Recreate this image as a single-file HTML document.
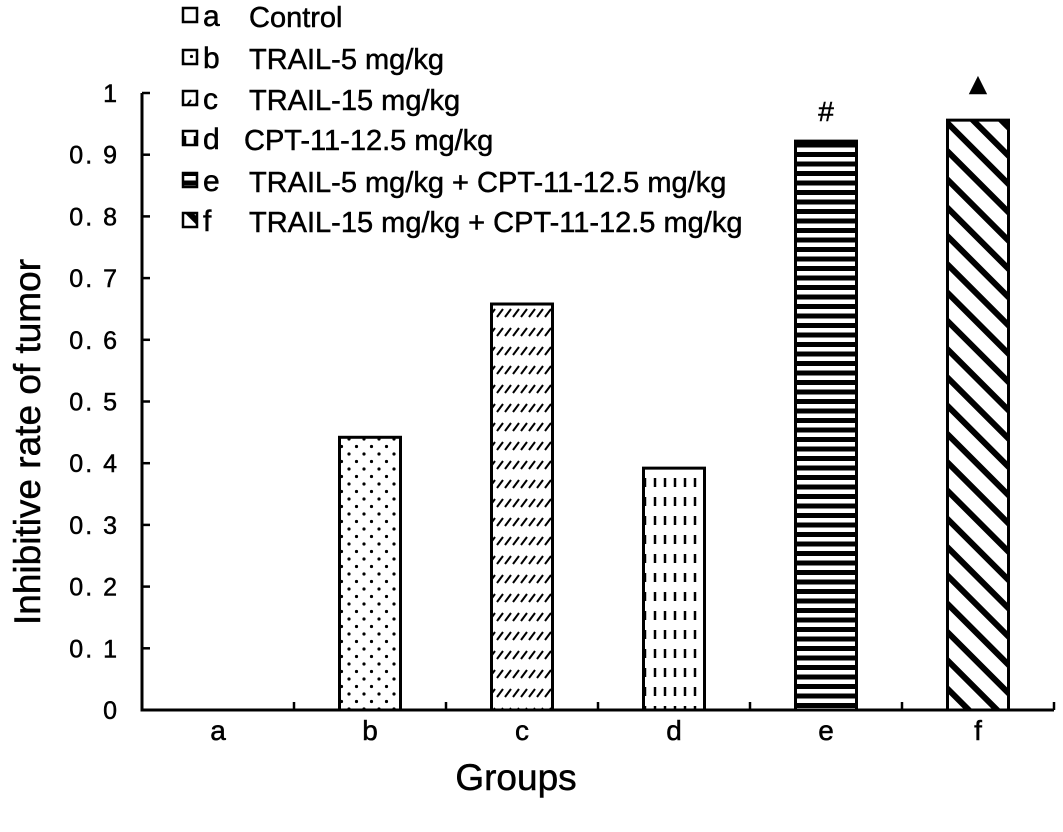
<!DOCTYPE html>
<html><head><meta charset="utf-8"><style>
body{margin:0;background:#fff}
svg{display:block;font-family:"Liberation Sans",Arial,sans-serif}
text{stroke:#000;stroke-width:0.5px}
</style></head><body>
<svg id="chart" width="1063" height="832" viewBox="0 0 1063 832">
<defs>
<pattern id="pb" width="15" height="15" patternUnits="userSpaceOnUse"><rect width="15" height="15" fill="#fff"/><circle cx="4" cy="4" r="1.6" fill="#000"/><circle cx="11.5" cy="11.5" r="1.6" fill="#000"/></pattern>
<pattern id="pc" width="8" height="19" patternUnits="userSpaceOnUse"><rect width="8" height="19" fill="#fff"/><line x1="1" y1="13" x2="7" y2="5" stroke="#000" stroke-width="2"/></pattern>
<pattern id="pd" width="10" height="19" patternUnits="userSpaceOnUse"><rect width="10" height="19" fill="#fff"/><line x1="5" y1="3" x2="5" y2="12" stroke="#000" stroke-width="2.5"/></pattern>
<pattern id="pe" width="10" height="9.5" patternUnits="userSpaceOnUse"><rect width="10" height="9.5" fill="#fff"/><rect y="0" width="10" height="5" fill="#000"/></pattern>
<pattern id="pf" width="20" height="20" patternUnits="userSpaceOnUse" patternTransform="rotate(-45)"><rect width="20" height="20" fill="#fff"/><rect x="0" width="6" height="20" fill="#000"/></pattern>
</defs>
<g id="plot"></g>
<text x="40" y="442" font-size="37" text-anchor="middle" transform="rotate(-90 40 442)">Inhibitive rate of tumor</text>
<text x="516" y="790" font-size="37" text-anchor="middle">Groups</text>
<g id="legend"></g>
</svg>
<script>
const categories=["a","b","c","d","e","f"];
const values=[0,0.442,0.658,0.392,0.922,0.956];
const yTicks=[0,0.1,0.2,0.3,0.4,0.5,0.6,0.7,0.8,0.9,1];
const yTickLabels=["0","0. 1","0. 2","0. 3","0. 4","0. 5","0. 6","0. 7","0. 8","0. 9","1"];
const markers=["","","","","#","▲"];
const legendLabels=["Control","TRAIL-5 mg/kg","TRAIL-15 mg/kg","CPT-11-12.5 mg/kg","TRAIL-5 mg/kg + CPT-11-12.5 mg/kg","TRAIL-15 mg/kg + CPT-11-12.5 mg/kg"];
const fills=["#fff","url(#pb)","url(#pc)","url(#pd)","url(#pe)","url(#pf)"];
const NS="http://www.w3.org/2000/svg";
const X0=142,X1=1054,Y0=710,Y1=93;
const band=(X1-X0)/categories.length;
const xc=i=>X0+band*(i+0.5);
const y=v=>Y0-(Y0-Y1)*v;
function mk(tag,attrs,parent,text){const e=document.createElementNS(NS,tag);for(const k in attrs)e.setAttribute(k,attrs[k]);if(text!==undefined)e.textContent=text;parent.appendChild(e);return e;}
const plot=document.getElementById('plot');
const bw=61;
values.forEach((v,i)=>{
  if(v<=0)return;
  const r=mk('rect',{x:xc(i)-bw/2,y:y(v),width:bw,height:Y0-y(v),fill:fills[i],stroke:'#000','stroke-width':3},plot);
  
  
  if(markers[i]){
    const t=mk('text',{x:xc(i),y:y(v)-(markers[i]==="#"?20:26),'font-size':markers[i]==="#"?28:30,'text-anchor':'middle'},plot,markers[i]);
    
    
  }
});
const ax=mk('path',{d:`M${X0} ${y(1)}V${Y0}H${X1}`,fill:'none',stroke:'#000','stroke-width':3},plot);


yTicks.forEach((v,i)=>{
  mk('line',{x1:X0,x2:X0+8,y1:y(v),y2:y(v),stroke:'#000','stroke-width':2.5},plot);
  const t=mk('text',{x:119,y:y(v)+9,'font-size':25,'letter-spacing':2,'text-anchor':'end'},plot,yTickLabels[i]);
  
  
});
categories.forEach((c,i)=>{
  const xe=X0+band*(i+1);
  mk('line',{x1:xe,x2:xe,y1:Y0,y2:Y0-8,stroke:'#000','stroke-width':2.5},plot);
  const t=mk('text',{x:xc(i),y:740,'font-size':28,'text-anchor':'middle'},plot,c);
  
  
});
const lg=document.getElementById('legend');
const ly=[17,59,100,140,182,222];
legendLabels.forEach((l,i)=>{
  const g=mk('g',{},lg);
  
  
  mk('rect',{x:183,y:ly[i]-9,width:14,height:14,fill:fills[i],stroke:'#000','stroke-width':2.5},g);
  mk('text',{x:203,y:ly[i]+9,'font-size':30},g,categories[i]);
  mk('text',{x:i==3?244:249,y:ly[i]+10,'font-size':29},g,l);
});
</script>
</body></html>
